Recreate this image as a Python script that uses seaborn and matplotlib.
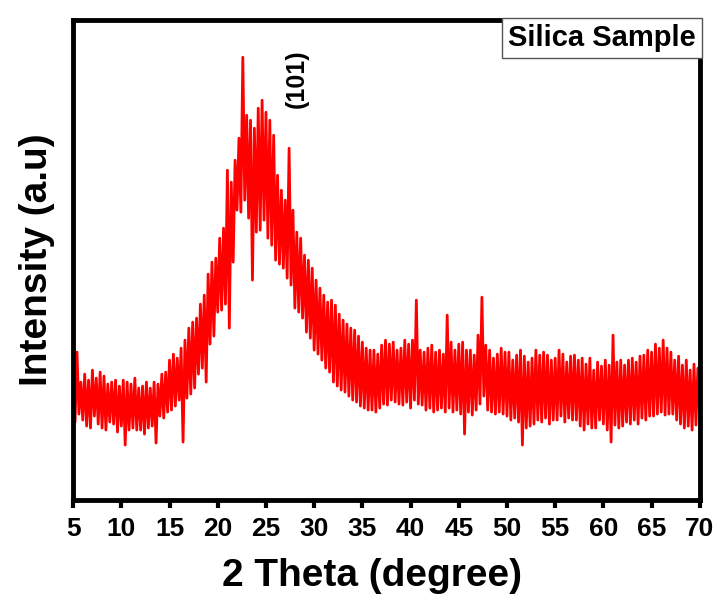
import numpy as np
import pandas as pd
import matplotlib
matplotlib.use('Agg')
import matplotlib.pyplot as plt
import seaborn as sns

sns.set_style('ticks')
plt.rcParams['font.family'] = ['Liberation Sans', 'DejaVu Sans']
plt.rcParams['font.weight'] = 'bold'
plt.rcParams['text.color'] = 'black'
plt.rcParams['axes.labelcolor'] = 'black'
plt.rcParams['xtick.color'] = 'black'

# 2 theta scan, step 0.2 degree
two_theta = np.round(np.linspace(5, 70, 326), 1)

# intensity (a.u.), five points per degree
intensity = [
    122, 78, 148, 86, 118,    # 5
    80, 126, 74, 120, 72,     # 6
    130, 84, 122, 76, 128,    # 7
    72, 124, 70, 116, 78,     # 8
    118, 76, 120, 68, 114,    # 9
    74, 120, 55, 118, 70,     # 10
    116, 72, 122, 70, 112,    # 11
    70, 114, 66, 118, 72,     # 12
    112, 74, 118, 57, 116,    # 13
    84, 126, 82, 128, 88,     # 14
    140, 90, 146, 94, 142,    # 15
    100, 152, 58, 160, 102,   # 16
    172, 106, 178, 112, 182,  # 17
    126, 196, 132, 205, 118,  # 18
    226, 156, 238, 164, 242,  # 19
    188, 262, 190, 272, 196,  # 20
    330, 172, 318, 238, 340,  # 21
    290, 362, 288, 443, 300,  # 22
    385, 282, 380, 220, 372,  # 23
    268, 392, 270, 400, 280,  # 24
    388, 262, 380, 255, 365,  # 25
    240, 325, 236, 310, 232,  # 26
    300, 222, 352, 215, 290,  # 27
    192, 268, 188, 262, 182,  # 28
    245, 168, 240, 162, 232,  # 29
    150, 220, 146, 212, 140,  # 30
    205, 132, 198, 128, 200,  # 31
    118, 195, 114, 186, 110,  # 32
    180, 108, 176, 104, 172,  # 33
    100, 170, 98, 164, 94,    # 34
    158, 92, 152, 90, 150,    # 35
    90, 150, 88, 146, 92,     # 36
    155, 96, 160, 95, 156,    # 37
    100, 158, 98, 150, 96,    # 38
    152, 95, 160, 98, 156,    # 39
    92, 160, 100, 200, 96,    # 40
    150, 95, 148, 90, 152,    # 41
    92, 155, 88, 148, 90,     # 42
    150, 92, 146, 88, 185,    # 43
    92, 158, 88, 150, 90,     # 44
    156, 86, 158, 66, 150,    # 45
    88, 150, 85, 145, 90,     # 46
    165, 96, 203, 104, 155,   # 47
    90, 150, 88, 142, 86,     # 48
    146, 88, 152, 86, 148,    # 49
    84, 148, 80, 140, 82,     # 50
    145, 78, 150, 55, 144,    # 51
    72, 138, 74, 142, 76,     # 52
    150, 80, 145, 78, 148,    # 53
    82, 145, 76, 140, 80,     # 54
    142, 80, 150, 84, 146,    # 55
    78, 138, 82, 144, 80,     # 56
    145, 80, 140, 74, 142,    # 57
    70, 136, 76, 142, 72,     # 58
    130, 72, 138, 80, 134,    # 59
    76, 140, 70, 135, 58,     # 60
    165, 75, 138, 72, 140,    # 61
    74, 135, 78, 140, 76,     # 62
    142, 80, 138, 76, 144,    # 63
    82, 145, 80, 150, 84,     # 64
    148, 84, 156, 86, 152,    # 65
    88, 160, 85, 152, 86,     # 66
    148, 86, 140, 80, 144,    # 67
    76, 135, 72, 140, 74,     # 68
    130, 70, 136, 75, 132,    # 69
    90,                       # 70
]

df = pd.DataFrame({'2theta': two_theta, 'I': intensity})

fig = plt.figure(figsize=(7.17, 5.96), dpi=100)
ax = fig.add_axes([0.102, 0.161, 0.874, 0.805])

sns.lineplot(data=df, x='2theta', y='I', color='#ff0000', linewidth=2.0, ax=ax)

ax.set_xlim(5, 70)
ax.set_ylim(0, 480)
ax.set_xticks(range(5, 71, 5))
ax.set_yticks([])
ax.tick_params(axis='x', direction='out', length=6, width=3, labelsize=19, pad=6)
for lab in ax.get_xticklabels():
    lab.set_fontweight('bold')
for sp in ax.spines.values():
    sp.set_visible(True)
    sp.set_linewidth(3.5)
    sp.set_color('black')

ax.set_xlabel('2 Theta (degree)', fontsize=28, fontweight='bold')
ax.xaxis.set_label_coords(0.477, -0.12)
ax.set_ylabel('Intensity (a.u)', fontsize=28, fontweight='bold', labelpad=13)

ax.text(28.2, 422, '(101)', rotation=90, fontsize=18, fontweight='bold',
        ha='center', va='center')

ax.text(0.994, 0.992, 'Silica Sample', transform=ax.transAxes, fontsize=21,
        fontweight='bold', ha='right', va='top',
        bbox=dict(boxstyle='square,pad=0.2', facecolor='white',
                  edgecolor='#555555', linewidth=1))

fig.savefig('out.png', dpi=100, facecolor='white')
